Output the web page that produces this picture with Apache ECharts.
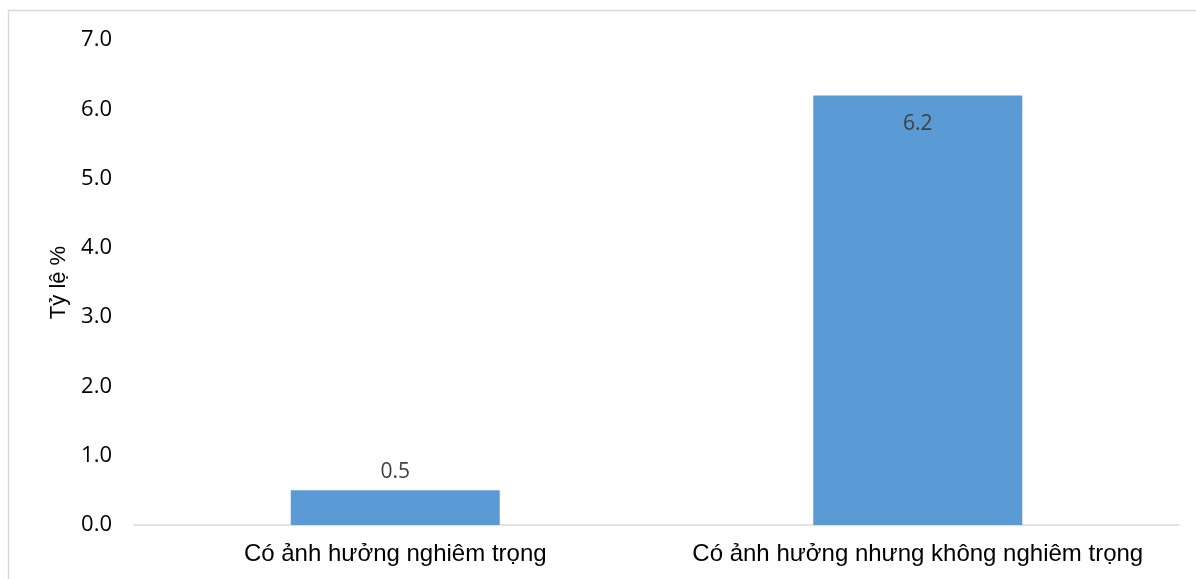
<!DOCTYPE html>
<html>
<head>
<meta charset="utf-8">
<script src="https://cdn.jsdelivr.net/npm/echarts@6/dist/echarts.min.js"></script>
<style>
  html, body { margin: 0; padding: 0; background: #fff; }
  #chart { width: 1196px; height: 579px; }
</style>
</head>
<body>
<div id="chart"></div>
<script>
// Impact categories and their shares (%)
const categories = ['Có ảnh hưởng nghiêm trọng', 'Có ảnh hưởng nhưng không nghiêm trọng'];
const shares = [0.5, 6.2];
// Where each value label sits relative to its bar
const labelPlacement = ['top', 'insideTop'];

const yMin = 0, yMax = 7, yStep = 1;

const chart = echarts.init(document.getElementById('chart'));

chart.setOption({
  backgroundColor: '#ffffff',
  animation: false,
  graphic: [{
    type: 'rect',
    shape: { x: 8.5, y: 10.5, width: 1300, height: 700 },
    style: { fill: 'none', stroke: '#d9d9d9', lineWidth: 1.5 },
    silent: true
  }],
  grid: { left: 134, right: 17, top: 40, bottom: 54 },
  xAxis: {
    type: 'category',
    data: categories,
    axisLine: { lineStyle: { color: '#d9d9d9', width: 1.5 } },
    axisTick: { show: false },
    axisLabel: {
      interval: 0,
      hideOverlap: false,
      color: '#000000',
      fontFamily: 'Liberation Sans, Arial, sans-serif',
      fontSize: 24,
      margin: 17
    }
  },
  yAxis: {
    type: 'value',
    min: yMin,
    max: yMax,
    interval: yStep,
    name: 'Tỷ lệ %',
    nameLocation: 'middle',
    nameGap: 64,
    nameTextStyle: {
      color: '#000000',
      fontFamily: 'Liberation Sans, Arial, sans-serif',
      fontSize: 22
    },
    axisLine: { show: false },
    axisTick: { show: false },
    splitLine: { show: false },
    axisLabel: {
      color: '#000000',
      fontFamily: 'Open Sans, sans-serif',
      fontSize: 22,
      margin: 22,
      formatter: v => v.toFixed(1)
    }
  },
  series: [{
    type: 'bar',
    barWidth: '40%',
    itemStyle: { color: '#5b9bd5' },
    data: shares.map((v, i) => ({
      value: v,
      label: {
        show: true,
        position: labelPlacement[i],
        distance: labelPlacement[i] === 'top' ? 8 : 18,
        color: '#404040',
        fontFamily: 'Open Sans, sans-serif',
        fontSize: 21,
        formatter: p => p.value.toFixed(1)
      }
    }))
  }]
});
</script>
</body>
</html>
